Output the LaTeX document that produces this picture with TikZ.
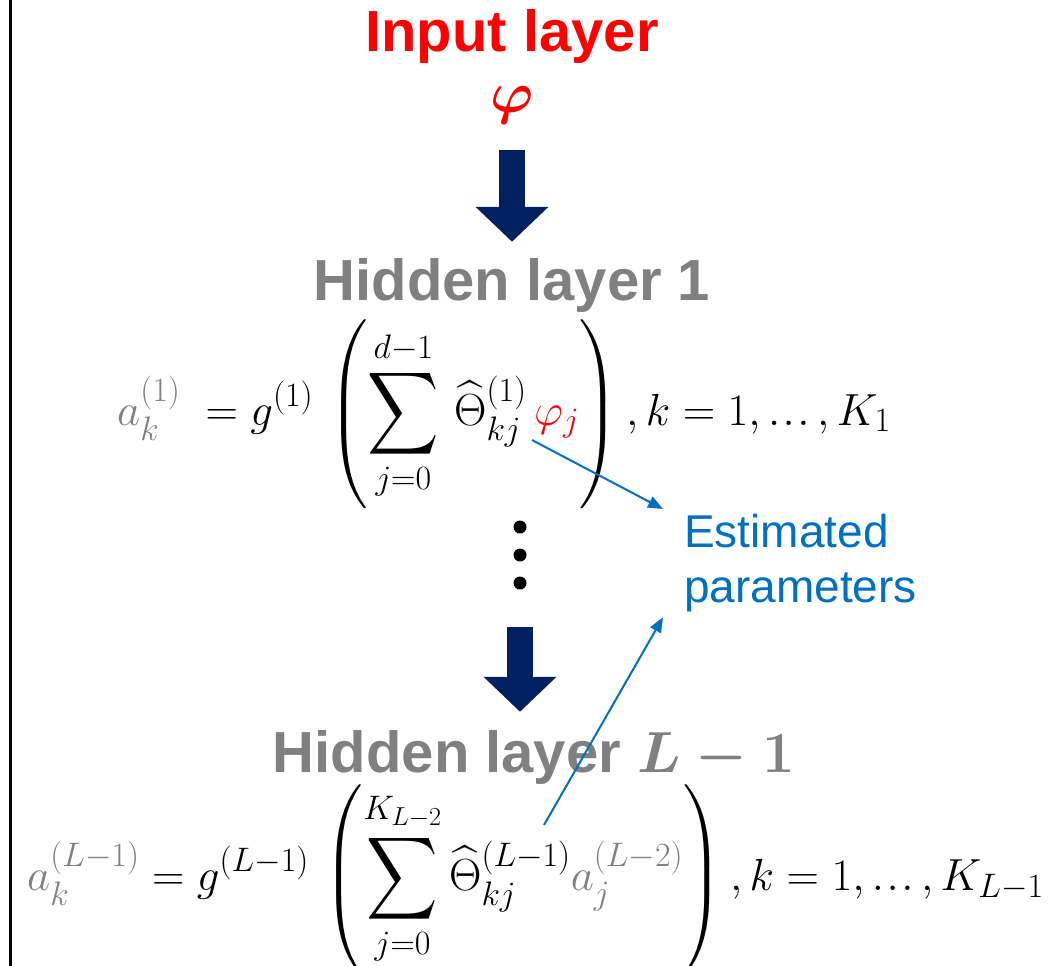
\RequirePackage{fix-cm}
\documentclass[tikz,border=0pt]{standalone}
\usepackage{amsmath, amssymb}
\usepackage[no-math]{fontspec}
\setmainfont{Liberation Sans}
\usetikzlibrary{arrows.meta}

\definecolor{inputred}{RGB}{255,0,0}
\definecolor{layergray}{RGB}{128,128,128}
\definecolor{arrownavy}{RGB}{0,32,96}
\definecolor{paramblue}{RGB}{0,112,192}

\DeclareMathSizes{45}{45}{34}{26}
\newcommand{\parenstrut}{\vrule height 101pt depth 72pt width 0pt}
\newcommand{\tallsum}{\mathop{\vcenter{\hbox{\scalebox{1.1}[1.28]{$\displaystyle\sum$}}}}\limits}
\newcommand{\tightdots}{\mathinner{.\mkern1mu.\mkern1mu.}}

\begin{document}
\begin{tikzpicture}[x=1pt, y=-1pt,
    head/.style={font=\fontsize{58}{66}\selectfont\bfseries, inner sep=0pt, anchor=base},
    eqn/.style={font=\fontsize{45}{52}\selectfont, inner sep=0pt, anchor=base west},
    bigarrow/.style={arrownavy, line width=26pt, -{Triangle[length=35pt, width=71pt]}},
    pointer/.style={paramblue, line width=2pt, -{Triangle[length=15pt, width=12pt]}},
    dot/.style={circle, fill=black, inner sep=0pt, minimum size=13pt}]

    \useasboundingbox (0,0) rectangle (1049,966);
    \draw[line width=3pt] (10,0) -- (10,966);

    \node[head, inputred] (input) at (512,52) {Input layer};
    \node[head, inputred] (phi) at (512,112) {$\boldsymbol{\varphi}$};

    \node[head, layergray] (hid1) at (512,300) {Hidden layer 1};
    \node[eqn] (eq1) at (117,425) {$\displaystyle \textcolor{layergray}{a_k^{(1)}}\; = g^{(1)}\,\left(\parenstrut\tallsum_{j=0}^{d-1}\, \widehat{\Theta}_{kj}^{(1)}\, \textcolor{inputred}{\varphi_j}\right), k = 1, \tightdots, K_1$};

    \foreach \i/\y in {1/527, 2/555, 3/583} {
        \node[dot] (dot\i) at (520,\y) {};
    }

    \node[head, layergray] (hidL) at (534,772) {Hidden layer $\boldsymbol{L-1}$};
    \node[eqn] (eq2) at (27,890) {$\displaystyle \textcolor{layergray}{a_k^{(L-1)}} = g^{(L-1)}\,\left(\parenstrut\tallsum_{j=0}^{K_{L-2}} \widehat{\Theta}_{kj}^{(L-1)} \textcolor{layergray}{a_j^{(L-2)}}\right), k = 1, \tightdots, K_{L-1}$};

    \node[font=\fontsize{46}{55}\selectfont, paramblue, align=left, anchor=north west,
        inner xsep=21pt, inner ysep=5pt] (est) at (663,509) {Estimated\\parameters};

    \draw[bigarrow, shorten <=27pt, shorten >=16pt] (phi.south) -- (phi.south |- hid1.north);
    \draw[bigarrow, shorten <=37pt, shorten >=18pt] (dot3) -- (dot3 |- hidL.north);

    \coordinate (theta1) at (532,440);
    \coordinate (theta2) at (544,825);
    \draw[pointer] (theta1) -- (est.north west);
    \draw[pointer] (theta2) -- (est.south west);

\end{tikzpicture}
\end{document}
